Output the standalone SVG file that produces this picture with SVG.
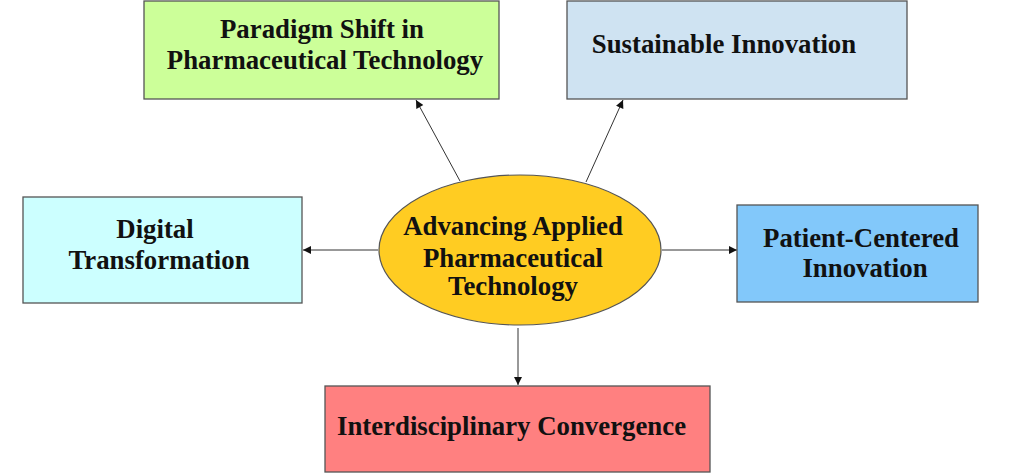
<svg xmlns="http://www.w3.org/2000/svg" width="1020" height="473" viewBox="0 0 1020 473">
<style>
.box{stroke:#555;stroke-width:1.3}
.t{font-family:"Liberation Serif","Times New Roman",serif;font-weight:bold;font-size:26.8px;fill:#111;text-anchor:middle}
.c{stroke:#333;stroke-width:1;fill:none;marker-end:url(#ah)}
</style>
<defs>
<marker id="ah" viewBox="0 0 10 10" refX="10" refY="5" markerWidth="9" markerHeight="8" markerUnits="userSpaceOnUse" orient="auto">
<path d="M0,0 L10,5 L0,10 z" fill="#111"/>
</marker>
</defs>
<rect width="1020" height="473" fill="#fff"/>
<g id="connectors">
<line class="c" x1="460" y1="181" x2="416" y2="100"/>
<line class="c" x1="586" y1="182" x2="623" y2="100"/>
<line class="c" x1="378" y1="250" x2="303" y2="250"/>
<line class="c" x1="662" y1="250" x2="737" y2="250"/>
<line class="c" x1="518" y1="328" x2="518" y2="385"/>
</g>
<g id="center">
<ellipse cx="520" cy="250" rx="141" ry="75" fill="#FFCC22" stroke="#555" stroke-width="1.2"/>
<text class="t" x="513" y="235">Advancing Applied</text>
<text class="t" x="513" y="267">Pharmaceutical</text>
<text class="t" x="513" y="295">Technology</text>
</g>
<g id="paradigm">
<rect class="box" x="144" y="1" width="355" height="98" fill="#CCFF99"/>
<text class="t" x="322" y="38">Paradigm Shift in</text>
<text class="t" x="325" y="69">Pharmaceutical Technology</text>
</g>
<g id="sustainable">
<rect class="box" x="567" y="1" width="340" height="98" fill="#CFE3F2"/>
<text class="t" x="724" y="53">Sustainable Innovation</text>
</g>
<g id="digital">
<rect class="box" x="23" y="197" width="279" height="106" fill="#CCFFFF"/>
<text class="t" x="155" y="238">Digital</text>
<text class="t" x="159" y="269">Transformation</text>
</g>
<g id="patient">
<rect class="box" x="737" y="205" width="241" height="97" fill="#82C8FA"/>
<text class="t" x="861" y="247">Patient-Centered</text>
<text class="t" x="865" y="277">Innovation</text>
</g>
<g id="interdisciplinary">
<rect class="box" x="325" y="386" width="385" height="86" fill="#FF8080"/>
<text class="t" x="511.5" y="435">Interdisciplinary Convergence</text>
</g>
</svg>
